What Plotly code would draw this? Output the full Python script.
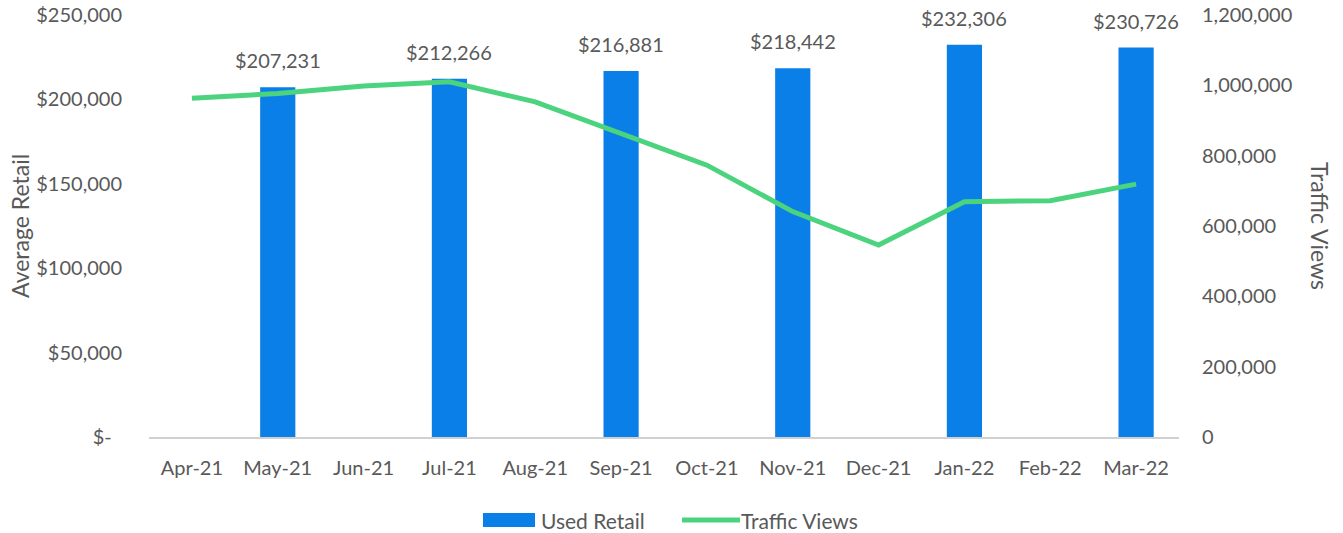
import plotly.graph_objects as go

# Monthly figures
months = ["Apr-21", "May-21", "Jun-21", "Jul-21", "Aug-21", "Sep-21",
          "Oct-21", "Nov-21", "Dec-21", "Jan-22", "Feb-22", "Mar-22"]
retail_months = ["May-21", "Jul-21", "Sep-21", "Nov-21", "Jan-22", "Mar-22"]
used_retail = [207231, 212266, 216881, 218442, 232306, 230726]
traffic_views = [963000, 977000, 998000, 1010000, 953000, 864000,
                 773000, 641000, 546000, 669000, 672000, 719000]

left_ticks = [0, 50000, 100000, 150000, 200000, 250000]
left_labels = ["$-\u00a0\u00a0", "$50,000", "$100,000", "$150,000", "$200,000", "$250,000"]
right_ticks = [0, 200000, 400000, 600000, 800000, 1000000, 1200000]
right_labels = ["0", "200,000", "400,000", "600,000", "800,000", "1,000,000", "1,200,000"]

BAR = "#0A7FE8"
LINE = "#4CD37E"
TEXT = "#595959"
FONT = "Lato"
W, H = 1343, 533
ML, MR, MT, MB = 149, 164, 15, 96
PW, PH = W - ML - MR, H - MT - MB

fig = go.Figure()
fig.add_trace(go.Bar(
    x=retail_months, y=used_retail, name="Used Retail",
    marker=dict(color=BAR, line=dict(width=0)),
    width=0.41, yaxis="y", showlegend=False,
))
fig.add_trace(go.Scatter(
    x=months, y=traffic_views, name="Traffic Views", mode="lines",
    line=dict(color=LINE, width=5), yaxis="y2", showlegend=False,
))

# Value labels above each bar
for m, v in zip(retail_months, used_retail):
    fig.add_annotation(
        x=m, y=v, xref="x", yref="y", text=f"${v:,}", showarrow=False,
        yanchor="bottom", yshift=13, font=dict(family=FONT, size=20, color=TEXT),
    )


# pixel position -> paper (plot-area) fraction
def px(x):
    return (x - ML) / PW


def py(y):
    return (H - MB - y) / PH


# Axis titles
fig.add_annotation(
    x=px(20), y=py(226), xref="paper", yref="paper",
    xanchor="center", yanchor="middle", text="Average Retail", textangle=-90,
    showarrow=False, font=dict(family=FONT, size=23, color=TEXT),
)
fig.add_annotation(
    x=px(1320), y=py(226), xref="paper", yref="paper",
    xanchor="center", yanchor="middle", text="Traffic Views", textangle=90,
    showarrow=False, font=dict(family=FONT, size=23, color=TEXT),
)

# Legend keys and labels below the plot
LEG_Y = 520
fig.add_shape(type="rect", xref="paper", yref="paper",
              x0=px(483), x1=px(535), y0=py(LEG_Y + 7), y1=py(LEG_Y - 7),
              fillcolor=BAR, line=dict(width=0))
fig.add_annotation(x=px(539), y=py(LEG_Y), xref="paper", yref="paper",
                   xanchor="left", yanchor="middle", text="Used Retail",
                   showarrow=False, font=dict(family=FONT, size=21, color=TEXT))
fig.add_shape(type="line", xref="paper", yref="paper",
              x0=px(682), x1=px(740), y0=py(LEG_Y), y1=py(LEG_Y),
              line=dict(color=LINE, width=5))
fig.add_annotation(x=px(739), y=py(LEG_Y), xref="paper", yref="paper",
                   xanchor="left", yanchor="middle", text="Traffic Views",
                   showarrow=False, font=dict(family=FONT, size=21, color=TEXT))

fig.update_layout(
    width=W, height=H,
    margin=dict(l=ML, r=MR, t=MT, b=MB, autoexpand=False),
    paper_bgcolor="white", plot_bgcolor="white",
    font=dict(family=FONT, size=20, color=TEXT),
    showlegend=False,
    xaxis=dict(
        categoryorder="array", categoryarray=months,
        range=[-0.5, 11.5], automargin=False,
        showgrid=False, zeroline=False,
        showline=True, linecolor="#D0D0D0", linewidth=1.5,
        ticks="", ticklabelstandoff=12,
        tickfont=dict(family=FONT, size=20, color=TEXT),
    ),
    yaxis=dict(
        range=[0, 250000], tickvals=left_ticks, ticktext=left_labels,
        automargin=False,
        showgrid=False, zeroline=False, showline=False,
        ticks="", ticklabelstandoff=26,
        tickfont=dict(family=FONT, size=20, color=TEXT),
    ),
    yaxis2=dict(
        range=[0, 1200000], tickvals=right_ticks, ticktext=right_labels,
        overlaying="y", side="right", automargin=False,
        showgrid=False, zeroline=False, showline=False,
        ticks="", ticklabelstandoff=22,
        tickfont=dict(family=FONT, size=20, color=TEXT),
    ),
)

fig.write_html("out.html")
